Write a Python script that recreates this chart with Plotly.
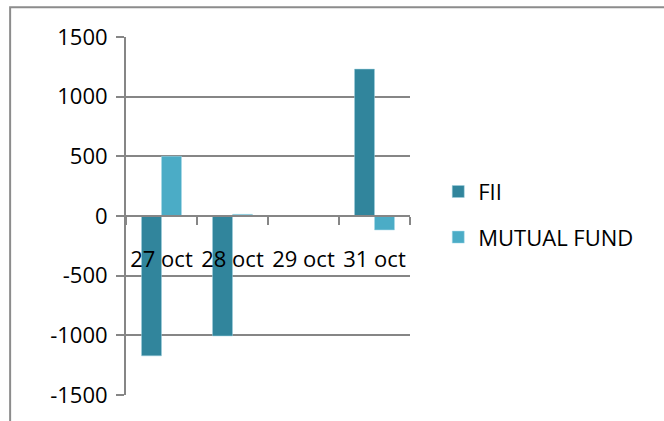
import plotly.graph_objects as go

categories = ["27 oct", "28 oct", "29 oct", "31 oct"]
fii = [-1172, -1005, 0, 1231]
mutual_fund = [500, 14, 0, -117]
y_ticks = [-1500, -1000, -500, 0, 500, 1000, 1500]
y_tick_text = ["-1500", "-1000", "-500", "0", "500", "1000", "1500"]

FONT = "Open Sans"
GRID = "#868686"

fig = go.Figure()
fig.add_trace(go.Bar(x=categories, y=fii, name="FII", marker_color="#31859C",
                     marker_line=dict(color="#9fd0de", width=0.5), legendgroup="a"))
fig.add_trace(go.Bar(x=categories, y=mutual_fund, name="MUTUAL FUND", marker_color="#4BACC6",
                     marker_line=dict(color="#a8dbe8", width=0.5), legendgroup="b"))

fig.update_layout(
    width=664, height=421,
    margin=dict(l=126, r=254, t=37, b=24),
    paper_bgcolor="white", plot_bgcolor="white",
    barmode="group", bargap=0.437, bargroupgap=0,
    font=dict(family=FONT, size=22, color="black"),
    showlegend=True,
    legend=dict(xref="container", yref="container", x=0.66, y=0.49,
                xanchor="left", yanchor="middle", tracegroupgap=14,
                font=dict(family=FONT, size=22, color="black"),
                bgcolor="rgba(0,0,0,0)"),
    xaxis=dict(type="category", anchor="free", position=0.5,
               showline=True, linecolor=GRID, linewidth=2,
               ticks="outside", tickson="boundaries", ticklen=8, tickwidth=2, tickcolor=GRID,
               showgrid=False, ticklabelstandoff=24, tickangle=0,
               tickfont=dict(family=FONT, size=22, color="black")),
    yaxis=dict(range=[-1500, 1500], tickvals=y_ticks, ticktext=y_tick_text,
               showgrid=True, gridcolor=GRID,
               gridwidth=2, zeroline=False, showline=True, linecolor=GRID, linewidth=2,
               ticks="outside", ticklen=8, tickwidth=2, tickcolor=GRID,
               ticklabelstandoff=4,
               tickfont=dict(family=FONT, size=22, color="black")),
    shapes=[dict(type="rect", xref="paper", yref="paper", x0=-0.408, x1=2.1, y0=-0.3, y1=1.083,
                 line=dict(color="#8c8c8c", width=2), layer="below")],
)

fig.write_html("out.html")
